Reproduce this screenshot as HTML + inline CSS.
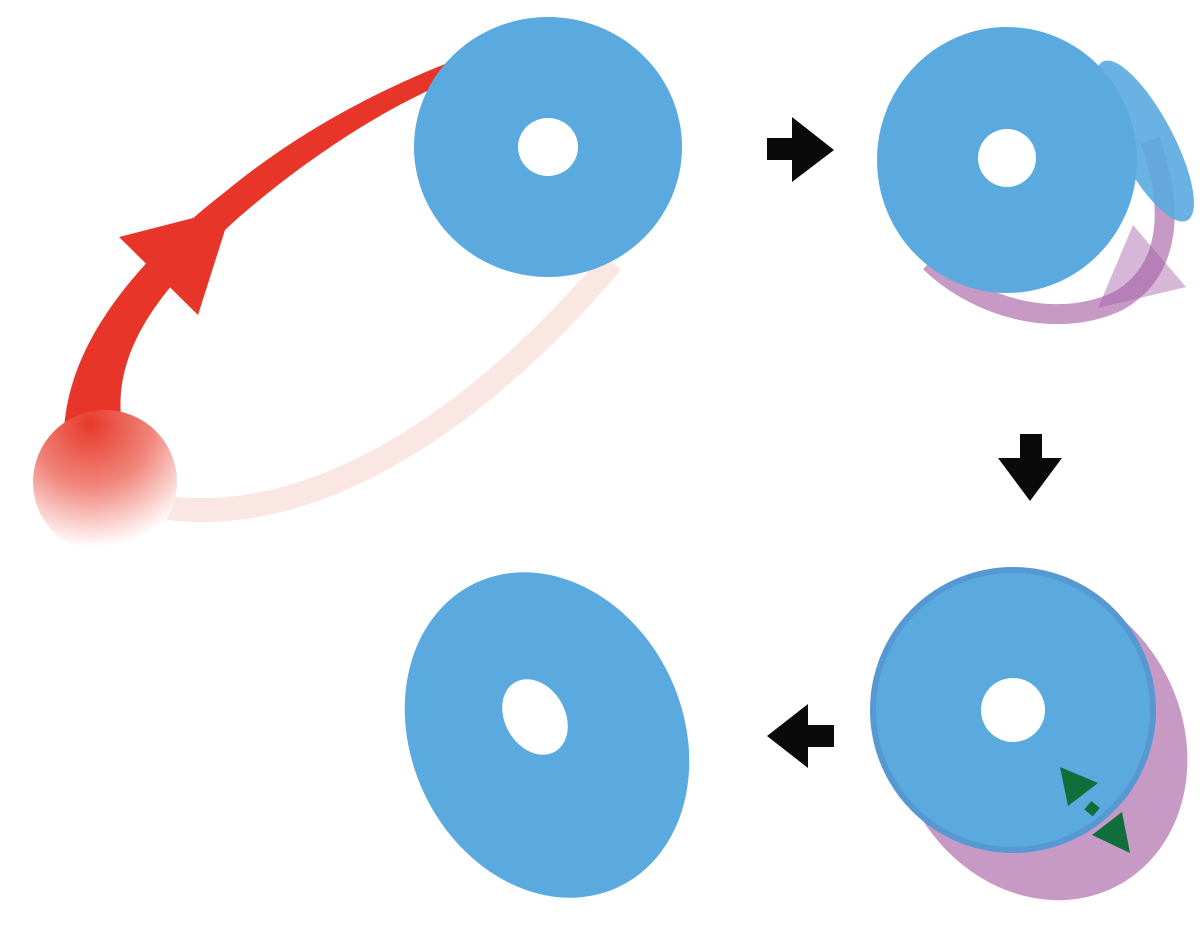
<!DOCTYPE html>
<html><head><style>html,body{margin:0;padding:0;background:#fff}</style></head><body>
<svg width="1200" height="923" viewBox="0 0 1200 923" xmlns="http://www.w3.org/2000/svg">
<defs>
<radialGradient id="ball" cx="0.4" cy="0.1" r="0.95">
<stop offset="0" stop-color="#e8392a"/>
<stop offset="0.45" stop-color="#f0857b"/>
<stop offset="0.9" stop-color="#ffffff"/>
</radialGradient>
</defs>
<path d="M150,505 C300,535 470,430 612,262" fill="none" stroke="#fae6e3" stroke-width="24"/>
<path d="M64,432 C68,335 150,250 225,192 C300,130 380,90 445,64 L452,80 C380,110 305,160 238,218 C170,280 110,345 122,425 Z" fill="#e8352a"/>
<polygon points="119,237 232,208 198,315" fill="#e8352a"/>
<circle cx="105" cy="482" r="72" fill="url(#ball)"/>
<ellipse cx="548" cy="147" rx="134" ry="130" fill="#5aaae0"/>
<ellipse cx="548" cy="147" rx="30" ry="29" fill="#fff"/>
<rect x="767" y="138" width="27" height="22" fill="#0a0a0a"/>
<polygon points="792,117 834,150 792,182" fill="#0a0a0a"/>
<rect x="1020" y="434" width="22" height="26" fill="#0a0a0a"/>
<polygon points="998,458 1062,458 1030,501" fill="#0a0a0a"/>
<polygon points="767,736 808,704 808,768" fill="#0a0a0a"/>
<rect x="806" y="725" width="28" height="22" fill="#0a0a0a"/>
<path d="M930,262 C980,310 1060,330 1120,300 C1170,270 1175,210 1150,140" fill="none" stroke="#c799c5" stroke-width="20"/>
<ellipse cx="1007" cy="160" rx="130" ry="133" fill="#5aaae0"/>
<ellipse cx="1007" cy="158" rx="29" ry="29" fill="#fff"/>
<ellipse cx="1145" cy="141" rx="28" ry="90" transform="rotate(-28 1145 141)" fill="#5aaae0" opacity="0.9"/>
<polygon points="1133,225 1186,287 1098,308" fill="#a45fa6" opacity="0.45"/>
<ellipse cx="1040" cy="740" rx="142" ry="165" transform="rotate(-28 1040 740)" fill="#c799c5"/>
<ellipse cx="1013" cy="710" rx="140" ry="140" fill="#5aaae0" stroke="#5699d2" stroke-width="6"/>
<circle cx="1013" cy="710" r="32" fill="#fff"/>
<polygon points="1060,767 1098,783 1068,806" fill="#0f6e3a"/>
<rect x="1087" y="803" width="11" height="11" transform="rotate(40 1092 808)" fill="#0f6e3a"/>
<polygon points="1122,812 1130,853 1092,835" fill="#0f6e3a"/>
<ellipse cx="547" cy="735" rx="136" ry="168" transform="rotate(-25 547 735)" fill="#5aaae0"/>
<ellipse cx="535" cy="717" rx="30" ry="40" transform="rotate(-30 535 717)" fill="#fff"/>
</svg>
</body></html>
